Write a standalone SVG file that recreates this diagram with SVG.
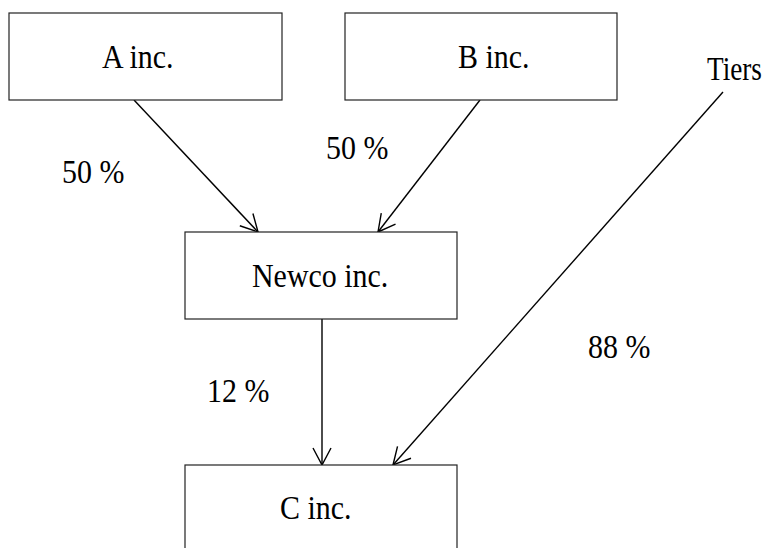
<svg xmlns="http://www.w3.org/2000/svg" width="767" height="548" viewBox="0 0 767 548">
<style>
.box{fill:#fff;stroke:#222;stroke-width:1.2}
.t{font-family:"Liberation Serif","Times New Roman",serif;font-size:34px;fill:#000}
.c{stroke:#000;stroke-width:1.4;fill:none}
</style>
<defs>
<marker id="arr" viewBox="-20 -11 22 22" markerWidth="22" markerHeight="22" refX="0" refY="0" orient="auto" markerUnits="userSpaceOnUse">
<path d="M-17,-9 L0,0 L-17,9" fill="none" stroke="#000" stroke-width="1.4"/>
</marker>
</defs>
<rect width="767" height="548" fill="#fff"/>
<g id="connectors">
<line class="c" x1="134" y1="100" x2="258" y2="232" marker-end="url(#arr)"/>
<line class="c" x1="480" y1="100" x2="378" y2="232" marker-end="url(#arr)"/>
<line class="c" x1="723" y1="92" x2="393" y2="465" marker-end="url(#arr)"/>
<line class="c" x1="322" y1="319" x2="322" y2="465" marker-end="url(#arr)"/>
</g>
<g id="nodeA"><rect class="box" x="9" y="13" width="273" height="87"/><text class="t" transform="translate(102,68) scale(0.88,1)">A inc.</text></g>
<g id="nodeB"><rect class="box" x="345" y="13" width="272" height="87"/><text class="t" transform="translate(458,68) scale(0.88,1)">B inc.</text></g>
<g id="nodeTiers"><text class="t" transform="translate(707,80) scale(0.8,1)">Tiers</text></g>
<g id="nodeNewco"><rect class="box" x="185" y="232" width="272" height="87"/><text class="t" transform="translate(252,287) scale(0.88,1)">Newco inc.</text></g>
<g id="nodeC"><rect class="box" x="185" y="465" width="272" height="100"/><text class="t" transform="translate(280,519) scale(0.88,1)">C inc.</text></g>
<g id="labels">
<text class="t" transform="translate(62,183) scale(0.88,1)">50 %</text>
<text class="t" transform="translate(326,159) scale(0.88,1)">50 %</text>
<text class="t" transform="translate(207,402) scale(0.88,1)">12 %</text>
<text class="t" transform="translate(588,358) scale(0.88,1)">88 %</text>
</g>
</svg>
